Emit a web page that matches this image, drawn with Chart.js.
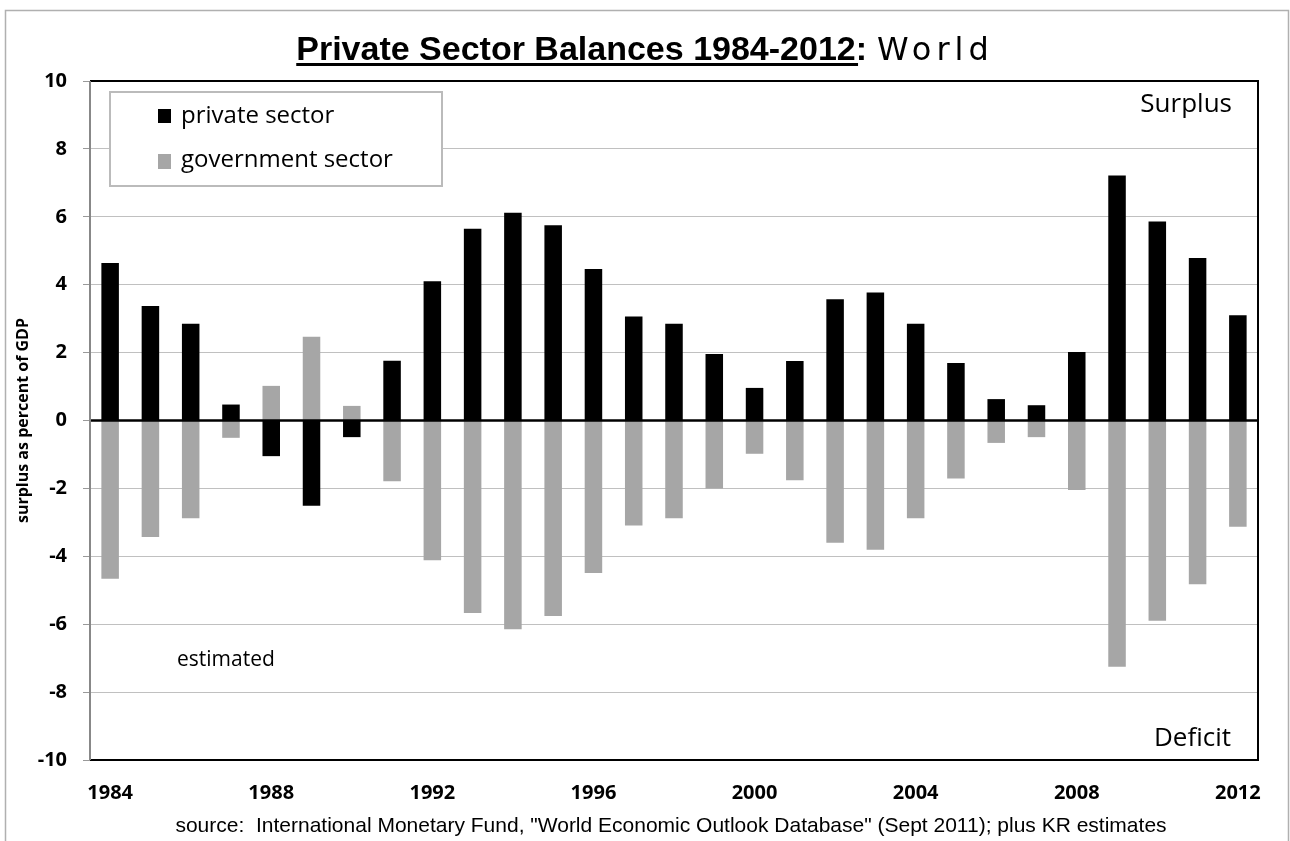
<!DOCTYPE html>
<html lang="en">
<head>
  <meta charset="UTF-8">
  <title>Private Sector Balances 1984-2012: World</title>
  <script src="https://cdn.jsdelivr.net/npm/chart.js"></script>
  <style>
    body {
      margin: 0;
      background: white;
    }
    canvas {
      display: block;
    }
  </style>
</head>
<body>

<canvas id="balances" width="1290" height="841"></canvas>

<script>
  // years on the x axis
  const years = ["1984", "1985", "1986", "1987", "1988", "1989", "1990", "1991", "1992", "1993",
                 "1994", "1995", "1996", "1997", "1998", "1999", "2000", "2001", "2002", "2003",
                 "2004", "2005", "2006", "2007", "2008", "2009", "2010", "2011", "2012"];
  const shownYears = ["1984", "1988", "1992", "1996", "2000", "2004", "2008", "2012"];

  // surplus as percent of GDP
  const privateSector = [4.64, 3.37, 2.85, 0.47, -1.05, -2.51, -0.49, 1.76, 4.10, 5.65,
                         6.12, 5.75, 4.46, 3.06, 2.85, 1.96, 0.96, 1.75, 3.57, 3.77,
                         2.85, 1.69, 0.63, 0.45, 2.02, 7.22, 5.86, 4.79, 3.10];
  const governmentSector = [-4.66, -3.43, -2.88, -0.51, 1.02, 2.47, 0.43, -1.79, -4.12, -5.67,
                            -6.15, -5.76, -4.49, -3.09, -2.88, -2.00, -0.98, -1.76, -3.60, -3.81,
                            -2.88, -1.71, -0.66, -0.49, -2.05, -7.25, -5.90, -4.82, -3.13];

  const yTicks = [10, 8, 6, 4, 2, 0, -2, -4, -6, -8, -10];

  const calibriLike = '"Open Sans", "Noto Sans", sans-serif';

  // title, legend box, notes, frame
  const decorations = {
    id: "decorations",
    afterDatasetsDraw(chart) {
      const ctx = chart.ctx;
      const area = chart.chartArea;
      const y = chart.scales.y;
      ctx.save();

      // zero line
      ctx.strokeStyle = "black";
      ctx.lineWidth = 2.5;
      ctx.beginPath();
      ctx.moveTo(area.left, y.getPixelForValue(0));
      ctx.lineTo(area.right, y.getPixelForValue(0));
      ctx.stroke();

      // plot frame
      ctx.lineWidth = 2;
      ctx.strokeStyle = "black";
      ctx.beginPath();
      ctx.moveTo(area.left, area.top);
      ctx.lineTo(area.right, area.top);
      ctx.lineTo(area.right, area.bottom);
      ctx.lineTo(area.left, area.bottom);
      ctx.stroke();
      ctx.strokeStyle = "#888";
      ctx.beginPath();
      ctx.moveTo(area.left, area.top);
      ctx.lineTo(area.left, area.bottom);
      ctx.stroke();

      // outer border
      ctx.strokeStyle = "#b0b0b0";
      ctx.lineWidth = 1.5;
      ctx.beginPath();
      ctx.moveTo(5.5, 841);
      ctx.lineTo(5.5, 10.5);
      ctx.lineTo(1288.5, 10.5);
      ctx.lineTo(1288.5, 841);
      ctx.stroke();

      // title
      const boldPart = "Private Sector Balances 1984-2012:";
      const plainPart = "World";
      const boldFont = "bold 34px 'Liberation Sans', Arial, sans-serif";
      const plainFont = "32px 'DejaVu Sans', sans-serif";
      ctx.fillStyle = "black";
      ctx.textBaseline = "alphabetic";
      ctx.font = boldFont;
      const w1 = ctx.measureText(boldPart).width;
      ctx.font = plainFont;
      ctx.letterSpacing = "5px";
      const w2 = ctx.measureText(plainPart).width;
      const gap = 10;
      const startX = 645 - (w1 + gap + w2) / 2;
      ctx.letterSpacing = "0px";
      ctx.font = boldFont;
      ctx.textAlign = "left";
      ctx.fillText(boldPart, startX, 60);
      ctx.fillRect(startX, 63, w1 - 9, 3);
      ctx.font = plainFont;
      ctx.letterSpacing = "5px";
      ctx.fillText(plainPart, startX + w1 + gap, 60);
      ctx.letterSpacing = "0px";

      // y axis title
      ctx.save();
      ctx.translate(23, (area.top + area.bottom) / 2);
      ctx.rotate(-Math.PI / 2);
      ctx.textAlign = "center";
      ctx.textBaseline = "middle";
      ctx.font = "bold 16px " + calibriLike;
      ctx.fillText("surplus as percent of GDP", 0, 0);
      ctx.restore();

      // legend box
      ctx.fillStyle = "white";
      ctx.fillRect(110, 92, 332, 94);
      ctx.strokeStyle = "#bbb";
      ctx.lineWidth = 2;
      ctx.strokeRect(110, 92, 332, 94);
      const sets = chart.data.datasets;
      ctx.font = "24px " + calibriLike;
      ctx.textAlign = "left";
      ctx.textBaseline = "alphabetic";
      ctx.fillStyle = sets[0].backgroundColor;
      ctx.fillRect(158, 109, 13, 14);
      ctx.fillStyle = "black";
      ctx.fillText(sets[0].label, 181, 123);
      ctx.fillStyle = sets[1].backgroundColor;
      ctx.fillRect(158, 154, 13, 15);
      ctx.fillStyle = "black";
      ctx.fillText(sets[1].label, 181, 167);

      // notes
      ctx.font = "26px " + calibriLike;
      ctx.textAlign = "right";
      ctx.fillText("Surplus", 1232, 112);
      ctx.fillText("Deficit", 1231, 746);
      ctx.font = "21px " + calibriLike;
      ctx.textAlign = "left";
      ctx.fillText("estimated", 177, 666);

      // source
      ctx.font = "21px 'Liberation Sans', Arial, sans-serif";
      ctx.textAlign = "center";
      ctx.fillText("source:  International Monetary Fund, \"World Economic Outlook Database\" (Sept 2011); plus KR estimates", 671, 832);

      ctx.restore();
    }
  };

  const chart = new Chart(document.getElementById("balances"), {
    type: "bar",
    data: {
      labels: years,
      datasets: [
        {
          label: "private sector",
          data: privateSector,
          backgroundColor: "#000000",
          barPercentage: 0.435,
          categoryPercentage: 1
        },
        {
          label: "government sector",
          data: governmentSector,
          backgroundColor: "#a6a6a6",
          barPercentage: 0.435,
          categoryPercentage: 1
        }
      ]
    },
    options: {
      responsive: false,
      animation: false,
      devicePixelRatio: 1,
      layout: {
        padding: { left: 0, right: 32, top: 81, bottom: 31 }
      },
      plugins: {
        legend: { display: false },
        tooltip: { enabled: false },
        title: { display: false }
      },
      scales: {
        x: {
          stacked: true,
          grid: { display: false, drawTicks: false },
          border: { display: false },
          ticks: {
            autoSkip: false,
            maxRotation: 0,
            padding: 21,
            color: "black",
            font: { family: calibriLike, size: 20, weight: "bold" },
            callback: function (value) {
              const yr = this.getLabelForValue(value);
              return shownYears.includes(yr) ? yr : "";
            }
          },
          afterFit: function (scale) {
            scale.height = 50;
          }
        },
        y: {
          stacked: true,
          min: yTicks[yTicks.length - 1],
          max: yTicks[0],
          afterBuildTicks: function (scale) {
            scale.ticks = yTicks.map(v => ({ value: v }));
          },
          grid: {
            color: "#c0c0c0",
            lineWidth: 1,
            tickLength: 7,
            tickColor: "#999"
          },
          border: { display: false },
          ticks: {
            padding: 16,
            color: "black",
            font: { family: calibriLike, size: 20, weight: "bold" }
          },
          afterFit: function (scale) {
            scale.width = 90;
          }
        }
      }
    },
    plugins: [decorations]
  });
</script>

</body>
</html>
